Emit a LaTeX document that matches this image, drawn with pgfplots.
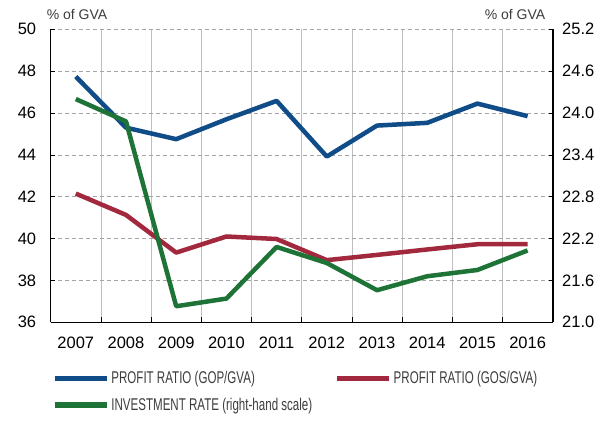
\documentclass[border=0pt]{standalone}
\usepackage{fontspec}
\setmainfont{Liberation Sans}
\usepackage{graphicx}
\usepackage{pgfplots}
\pgfplotsset{compat=1.18}
\definecolor{cblue}{RGB}{16,76,135}
\definecolor{cred}{RGB}{162,40,62}
\definecolor{cgreen}{RGB}{30,115,55}
\definecolor{gridv}{RGB}{190,190,190}
\definecolor{gridh}{RGB}{165,165,165}
\definecolor{txt}{RGB}{60,60,60}
\newcommand{\lgtxt}[1]{\scalebox{0.68}[1]{#1}}
\pgfplotsset{
  base/.style={
    scale only axis, width=502pt, height=293pt,
    xmin=-0.5, xmax=9.5, clip=false,
    ticklabel style={font=\fontsize{16.5}{16.5}\selectfont, text=black},
    /pgf/number format/assume math mode=true,
    tick align=inside,
    major tick length=4pt,
    axis line style={-, black},
  },
  serie/.style={line width=4.5pt, line join=round},
}
\begin{document}
\begin{tikzpicture}
\begin{axis}[
  base,
  ymin=36, ymax=50, ytick={36,38,...,50},
  axis x line*=bottom, axis y line*=left,
  axis line style={line width=0.8pt},
  xtick={0,...,9},
  xticklabels={2007,2008,2009,2010,2011,2012,2013,2014,2015,2016},
  major x tick style={draw=none},
  minor xtick={-0.5,0.5,...,9.5},
  minor tick length=5pt,
  minor x tick style={black, line width=0.6pt},
  xminorgrids=true,
  minor x grid style={gridv, line width=0.7pt, solid},
  ymajorgrids=true,
  major y grid style={gridh, line width=0.7pt, dash pattern=on 4pt off 3pt},
  y tick style={black, line width=0.6pt},
  yticklabel style={xshift=-11pt},
  xticklabel style={yshift=-11.3pt},
]
\coordinate (O) at (rel axis cs:0,0);
\addplot[serie, cred] coordinates {(0,42.15) (1,41.13) (2,39.33) (3,40.10) (4,39.98) (5,38.97) (6,39.22) (7,39.48) (8,39.73) (9,39.73)};
\addplot[serie, cblue] coordinates {(0,47.74) (1,45.30) (2,44.75) (3,45.70) (4,46.58) (5,43.92) (6,45.40) (7,45.53) (8,46.45) (9,45.85)};
\node[anchor=base, font=\fontsize{14}{14}\selectfont, text=txt] at ([xshift=26.3pt, yshift=10pt]rel axis cs:0,1) {\% of GVA};
\node[anchor=base, font=\fontsize{14}{14}\selectfont, text=txt] at ([xshift=-37.7pt, yshift=10pt]rel axis cs:1,1) {\% of GVA};
\end{axis}
\begin{axis}[
  base,
  ymin=21, ymax=25.2, ytick={21,21.6,22.2,22.8,23.4,24.0,24.6,25.2},
  axis y line*=right, axis x line=none,
  axis line style={line width=1.8pt},
  y tick style={black, line width=0.6pt},
  /pgf/number format/fixed, /pgf/number format/fixed zerofill, /pgf/number format/precision=1,
  yticklabel style={xshift=6pt},
  legend columns=2,
  legend cell align=left,
  legend image code/.code={\draw[#1, line width=5.5pt, line cap=butt] (0pt,0pt) -- (52pt,0pt);},
  legend style={at={(0,0)}, anchor=north west, xshift=1pt, yshift=-47pt,
    draw=none, fill=none, inner sep=0pt,
    font=\fontsize{17}{17}\selectfont, text=txt,
    row sep=9pt,
    /tikz/every even column/.append style={column sep=20pt}},
]
\addlegendimage{serie, cblue}
\addlegendentry{\lgtxt{PROFIT RATIO (GOP/GVA)}}
\addlegendimage{serie, cred}
\addlegendentry{\lgtxt{PROFIT RATIO (GOS/GVA)}}
\addplot[serie, cgreen] coordinates {(0,24.20) (1,23.88) (2,21.23) (3,21.34) (4,22.08) (5,21.85) (6,21.46) (7,21.66) (8,21.75) (9,22.03)};
\addlegendentry{\lgtxt{INVESTMENT RATE (right-hand scale)}}
\end{axis}
\path[use as bounding box] ([xshift=-50.7pt, yshift=-98.7pt]O) rectangle ([xshift=562.3pt, yshift=322.3pt]O);
\end{tikzpicture}
\end{document}
